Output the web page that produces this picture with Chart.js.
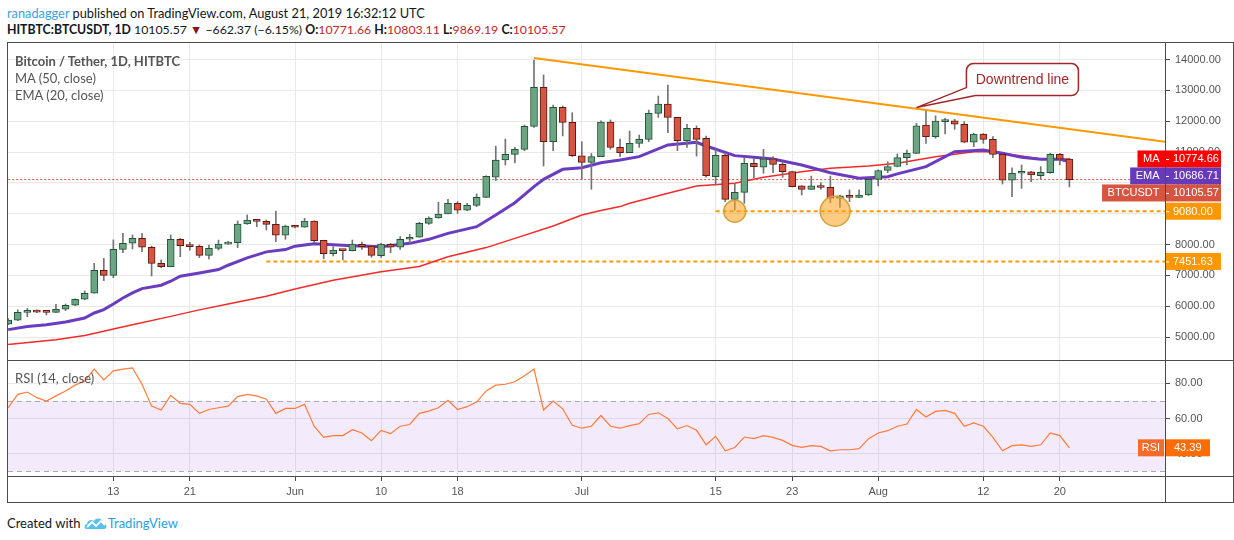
<!DOCTYPE html>
<html>
<head>
<meta charset="utf-8">
<script src="https://cdn.jsdelivr.net/npm/chart.js@4.4.1/dist/chart.umd.min.js"></script>
<style>
  body { margin: 0; background: #fff; }
  #page { position: relative; width: 1234px; height: 540px; overflow: hidden; font-family: Lato, "Liberation Sans", sans-serif; color: #131722; }
  .abs { position: absolute; white-space: nowrap; }
  .hdr { font-size: 12.8px; line-height: 16px; }
  .red { color: #c0282d; }
  .leg { font-size: 13px; line-height: 16px; color: #555; left: 15px; }
  .line { position: absolute; background: #4b4b4b; }
  canvas { position: absolute; }
</style>
</head>
<body>
<div id="page">
  <div class="abs hdr" style="left:7px;top:5px"><span style="color:#3aa3df">ranadagger</span> published on TradingView.com, August 21, 2019 16:32:12 UTC</div>
  <div class="abs hdr" id="quote" style="left:7px;top:22px;font-size:12.3px"></div>

  <div class="abs" style="left:7px;top:42px;width:1227px;height:461px;border:1px solid #4b4b4b;box-sizing:border-box"></div>
  <canvas id="price" width="1224" height="317" style="left:8px;top:43px"></canvas>
  <canvas id="rsi" width="1224" height="142" style="left:8px;top:361px"></canvas>
  <div class="line" style="left:8px;top:360px;width:1225px;height:1px"></div>
  <div class="line" style="left:8px;top:476px;width:1225px;height:1px"></div>
  <div class="line" style="left:1165px;top:43px;width:1px;height:459px"></div>

  <div class="abs leg" style="top:53px;font-weight:bold">Bitcoin / Tether, 1D, HITBTC</div>
  <div class="abs leg" style="top:70px">MA (50, close)</div>
  <div class="abs leg" style="top:87px">EMA (20, close)</div>
  <div class="abs leg" style="top:370px">RSI (14, close)</div>

  <div class="abs hdr" style="left:7px;top:515px;font-size:13px">Created with
    <svg width="24" height="14" viewBox="0 0 24 14" style="vertical-align:-2px">
      <path d="M2 13 C0 13 0 8 3 8 C3 4 8 3 10 5 C12 1 19 2 19 7 C23 7 24 13 20 13 Z" fill="#5bc0eb"/>
      <path d="M3 11 L8 6 L12 10 L17 5 L21 9" stroke="#fff" stroke-width="1.8" fill="none"/>
    </svg><span style="color:#2aa1e3">TradingView</span></div>
</div>

<script>
// daily candles, May 2 - Aug 21 2019
const dates = [
  '5/2','5/3','5/4','5/5','5/6','5/7','5/8','5/9','5/10','5/11','5/12','5/13','5/14','5/15','5/16',
  '5/17','5/18','5/19','5/20','5/21','5/22','5/23','5/24','5/25','5/26','5/27','5/28','5/29','5/30','5/31',
  '6/1','6/2','6/3','6/4','6/5','6/6','6/7','6/8','6/9','6/10','6/11','6/12','6/13','6/14','6/15',
  '6/16','6/17','6/18','6/19','6/20','6/21','6/22','6/23','6/24','6/25','6/26','6/27','6/28','6/29','6/30',
  '7/1','7/2','7/3','7/4','7/5','7/6','7/7','7/8','7/9','7/10','7/11','7/12','7/13','7/14','7/15','7/16',
  '7/17','7/18','7/19','7/20','7/21','7/22','7/23','7/24','7/25','7/26','7/27','7/28','7/29','7/30','7/31',
  '8/1','8/2','8/3','8/4','8/5','8/6','8/7','8/8','8/9','8/10','8/11','8/12','8/13','8/14','8/15','8/16',
  '8/17','8/18','8/19','8/20','8/21'
];
const opens = [
  5420,5545,5800,5865,5810,5800,5900,6030,6225,6420,7165,7000,7845,8040,8200,
  7910,7390,7280,8170,7985,7940,7650,7875,8015,8060,8665,8795,8750,8655,8300,
  8600,8560,8760,8135,7705,7820,7800,8006,7950,7640,8005,7910,8170,8235,8685,
  8860,8990,9335,9110,9270,9530,10180,10740,10925,11085,11830,13100,11335,12450,11960,
  10880,10665,10850,11970,11150,10980,11280,11410,12255,12555,12125,11370,11770,11445,10200,10890,
  9465,9690,10635,10505,10775,10600,10365,9900,9790,9890,9855,9500,9575,9530,9605,
  10115,10400,10530,10820,10955,11875,11500,11985,12015,11900,11315,11585,11410,10925,10090,10310,
  10360,10235,10330,10925,10771.66
];
const highs = [
  5600,5880,5930,5880,5825,6060,6070,6240,6495,7390,7550,8150,8365,8310,8365,
  7950,7500,8310,8200,8070,7985,7985,8145,8100,8765,8960,8805,8795,9085,8630,
  8620,8850,8770,8140,7930,7830,8146,8080,7960,8040,8040,8255,8330,8720,8900,
  9370,9465,9390,9335,9640,10230,11190,11420,11150,11875,13980,13500,12525,12490,12275,
  11335,10955,12010,12040,11420,11680,11550,12360,12815,13170,12125,11900,11845,11520,11085,10955,
  9985,10825,10795,11085,10850,10685,10370,9910,10220,10005,10220,9600,9770,9770,10130,
  10420,10680,10935,11065,11930,12340,12170,12090,12060,11985,11605,11600,11500,10930,10490,10580,
  10370,10525,10960,10960,10803.11
];
const lows = [
  5400,5530,5660,5790,5715,5790,5855,6020,6210,6420,6830,6925,7735,7855,7770,
  6980,7250,7280,7605,7820,7575,7530,7820,8005,7900,8655,8580,8470,8095,8170,
  8540,8560,8060,7540,7630,7500,7790,7843,7585,7585,7735,7845,8040,8235,8655,
  8850,8990,9010,9100,9230,9520,10070,10580,10650,11040,11800,10545,11040,11520,10850,
  10115,9790,10850,11090,10850,10980,11150,11335,12125,11630,11045,11150,10870,10180,9930,9390,
  9120,9335,10170,10310,10330,10180,9870,9605,9780,9790,9355,9205,9390,9520,9590,
  9900,10330,10520,10580,10955,11280,11445,11585,11735,11300,11175,11280,10815,9960,9550,9820,
  10040,10125,10310,10580,9869.19
];
const closes = [
  5550,5800,5865,5805,5800,5900,6030,6225,6420,7165,7000,7845,8040,8200,7910,
  7390,7280,8170,7965,7930,7650,7875,8015,8060,8665,8795,8750,8655,8300,8600,
  8560,8760,8125,7705,7820,7800,8015,7930,7650,8015,7910,8170,8235,8685,8860,
  8990,9335,9110,9270,9530,10210,10740,10925,11085,11830,13100,11335,12450,11960,10880,
  10665,10850,11970,11150,10980,11280,11410,12255,12555,12125,11370,11770,11410,10235,10890,9465,
  9690,10635,10525,10775,10600,10365,9875,9790,9900,9850,9500,9575,9530,9605,10115,
  10400,10530,10820,10955,11845,11500,12005,12005,11900,11315,11585,11410,10925,10090,10310,10340,
  10255,10340,10925,10767.94,10105.57
];
const rsiValues = [
  66.1,73.7,75.0,71.8,69.9,72.8,75.6,78.9,81.3,88.0,81.9,87.0,88.0,88.6,79.4,
  67.0,64.8,73.1,68.6,68.0,62.9,65.1,66.1,67.0,72.4,73.7,72.8,70.9,62.9,65.7,
  65.7,68.0,55.6,49.3,50.3,50.3,53.7,51.8,47.4,53.3,51.4,55.6,56.6,62.9,64.2,
  66.1,70.3,65.1,66.7,69.3,75.6,78.9,79.4,80.8,84.2,88.0,64.8,69.9,65.5,56.2,
  54.5,55.6,61.7,55.6,54.5,56.0,57.1,62.3,63.2,60.0,54.1,56.0,53.3,45.1,49.9,41.7,
  43.6,49.5,48.6,50.3,49.3,47.6,44.8,43.6,44.6,44.2,41.7,42.3,42.3,42.9,48.6,
  51.8,53.1,55.6,56.9,65.1,60.8,64.0,64.6,62.9,55.6,57.5,55.6,49.3,41.7,44.6,45.1,
  44.2,45.1,51.8,50.3,43.39
];

// moving averages
const maDates = ['5/2','5/7','5/10','5/12','5/13','5/15','5/19','5/22','5/25','5/29','6/1','6/5','6/10','6/14',
  '6/17','6/21','6/24','6/28','7/1','7/3','7/5','7/6','7/10','7/13','7/17','7/20','7/24','7/27','7/31','8/3',
  '8/7','8/11','8/13','8/16','8/18','8/21'];
const maValues = [4755,4915,5050,5190,5260,5400,5670,5880,6070,6320,6560,6840,7119,7290,
  7606,7900,8200,8600,8957,9100,9230,9336,9660,9898,9984,10179,10363,10471,10546,10633,
  10849,11011,11011,10871,10773,10774.66];
const emaDates = ['5/2','5/4','5/6','5/8','5/10','5/11','5/12','5/13','5/14','5/15','5/16','5/18','5/19','5/20',
  '5/22','5/24','5/25','5/27','5/29','5/31','6/1','6/3','6/5','6/7','6/10','6/13','6/15','6/17','6/20','6/22',
  '6/24','6/26','6/27','6/29','7/1','7/3','7/5','7/7','7/10','7/13','7/14','7/17','7/19','7/21','7/24','7/27',
  '7/30','8/2','8/3','8/6','8/9','8/12','8/14','8/16','8/18','8/20','8/21'];
const emaValues = [5240,5340,5400,5485,5617,5780,5888,6072,6267,6429,6570,6680,6810,6971,
  7079,7188,7328,7567,7762,7837,7946,8021,7990,7962,7930,8038,8168,8362,8578,8957,
  9357,9876,10113,10438,10492,10654,10740,10849,11228,11314,11195,10882,10827,10773,10579,10330,
  10147,10201,10290,10525,11011,11065,10960,10827,10763,10763,10686.71];

// drawn objects
const trendDates = ['6/26', '8/31'];
const trendPrices = [14050, 11330];
const levelPrices = [9080, 7451.63];
const levelStarts = ['7/15', '5/29'];
const levelEnd = '8/31';
const circleDays = [46, 56.5];
const circleSizes = [11, 15];
const calloutDate = '8/5';
const calloutPrice = 12440;

// axes
const tickDates = ['5/13','5/21','6/1','6/10','6/18','7/1','7/15','7/23','8/1','8/12','8/20'];
const tickLabels = ['13','21','Jun','10','18','Jul','15','23','Aug','12','20'];
const priceTicks = [5000,6000,7000,8000,9000,10000,11000,12000,13000,14000];
const rsiTicks = [40, 60, 80];

const X_MIN = -30.02, X_MAX = 91.0;
const AXIS_FONT = { family: '"Liberation Sans", Arial, sans-serif', size: 11 };
const GRID = '#e9e9e9';

function dayOf(s) {
  const [m, d] = s.split('/').map(Number);
  return (Date.UTC(2019, m - 1, d) - Date.UTC(2019, 5, 1)) / 864e5;
}

// header quote from last candle
const n = closes.length - 1;
const chg = closes[n] - closes[n - 1];
const f2 = v => v.toFixed(2);
document.getElementById('quote').innerHTML =
  '<b>HITBTC:BTCUSDT, 1D</b> ' + f2(closes[n]) + ' <span style="color:#8b1111">&#9660;</span> ' +
  '\u2212' + f2(-chg) + ' (\u2212' + f2(-chg / closes[n - 1] * 100) + '%) ' +
  '<b>O:</b><span class="red">' + f2(opens[n]) + '</span> <b>H:</b><span class="red">' + f2(highs[n]) +
  '</span> <b>L:</b><span class="red">' + f2(lows[n]) + '</span> <b>C:</b><span class="red">' + f2(closes[n]) + '</span>';

const xs = dates.map(dayOf);
const isUp = closes.map((c, i) => c >= opens[i]);
const tickDays = tickDates.map(dayOf);

const xScale = (showLabels) => ({
  type: 'linear', min: X_MIN, max: X_MAX, offset: false,
  afterBuildTicks: s => { s.ticks = tickDays.map(v => ({ value: v })); },
  ticks: showLabels
    ? { display: true, autoSkip: false, maxRotation: 0, padding: 4, color: '#555', font: AXIS_FONT, callback: (v, i) => tickLabels[i] }
    : { display: false },
  grid: { color: GRID, offset: false, drawTicks: showLabels, tickLength: 4, tickColor: '#4b4b4b' },
  border: { display: false },
  afterFit: s => { s.height = showLabels ? 26 : 0; s.paddingLeft = 0; s.paddingRight = 0; }
});

const yScale = (min, max, ticks) => ({
  position: 'right', min, max,
  afterBuildTicks: s => { s.ticks = ticks.map(v => ({ value: v })); },
  ticks: { color: '#555', font: AXIS_FONT, padding: 5, callback: v => Number(v).toFixed(2) },
  grid: { color: GRID, tickLength: 5, tickColor: '#4b4b4b' },
  border: { display: false },
  afterFit: s => { s.width = 67; s.paddingTop = 0; s.paddingBottom = 0; }
});

// price axis value labels (MA, EMA, last price, levels)
const priceLabels = {
  id: 'priceLabels',
  afterDraw(chart) {
    const { ctx, chartArea, scales: { y } } = chart;
    const items = [
      { name: 'MA', value: maValues[maValues.length - 1], color: '#ff0000' },
      { name: 'EMA', value: emaValues[emaValues.length - 1], color: '#673ab7' },
      { name: 'BTCUSDT', value: closes[n], color: '#d65442' },
      { name: null, value: levelPrices[0], color: '#ff9800' },
      { name: null, value: levelPrices[1], color: '#ff9800' }
    ].map(it => ({ ...it, y: y.getPixelForValue(it.value) })).sort((a, b) => a.y - b.y);
    const h = 17;
    let prev = -Infinity;
    const x0 = chartArea.right;
    ctx.save();
    ctx.font = '11px "Liberation Sans", Arial, sans-serif';
    ctx.textBaseline = 'middle';
    items.forEach(it => {
      const cy = Math.max(it.y, prev + h);
      prev = cy;
      ctx.fillStyle = it.color;
      ctx.fillRect(x0, cy - h / 2, 56, h);
      ctx.strokeStyle = '#fff';
      ctx.lineWidth = 1;
      ctx.beginPath(); ctx.moveTo(x0, cy + 0.5); ctx.lineTo(x0 + 4, cy + 0.5); ctx.stroke();
      ctx.fillStyle = '#fff';
      ctx.textAlign = 'left';
      ctx.fillText(it.value.toFixed(2), x0 + 8, cy + 0.5);
      if (it.name) {
        const w = ctx.measureText(it.name).width + 11;
        ctx.fillStyle = it.color;
        ctx.fillRect(x0 - w, cy - h / 2, w, h);
        ctx.fillStyle = '#fff';
        ctx.textAlign = 'center';
        ctx.fillText(it.name, x0 - w / 2, cy + 0.5);
      }
    });
    ctx.restore();
  }
};

// "Downtrend line" callout
const callout = {
  id: 'callout',
  afterDatasetsDraw(chart) {
    const { ctx, scales: { x, y } } = chart;
    const tx = x.getPixelForValue(dayOf(calloutDate)), ty = y.getPixelForValue(calloutPrice);
    const bx = tx + 50, by = ty - 44, bw = 112, bh = 32, r = 7;
    ctx.save();
    ctx.beginPath();
    ctx.moveTo(bx + r, by);
    ctx.lineTo(bx + bw - r, by); ctx.arcTo(bx + bw, by, bx + bw, by + r, r);
    ctx.lineTo(bx + bw, by + bh - r); ctx.arcTo(bx + bw, by + bh, bx + bw - r, by + bh, r);
    ctx.lineTo(bx + 9, by + bh);
    ctx.lineTo(tx, ty);
    ctx.lineTo(bx, by + bh - 8);
    ctx.lineTo(bx, by + r); ctx.arcTo(bx, by, bx + r, by, r);
    ctx.closePath();
    ctx.fillStyle = '#fff';
    ctx.fill();
    ctx.strokeStyle = '#a3262a';
    ctx.lineWidth = 1.5;
    ctx.stroke();
    ctx.fillStyle = '#a3262a';
    ctx.font = '14px "Liberation Sans", Arial, sans-serif';
    ctx.textAlign = 'center';
    ctx.textBaseline = 'middle';
    ctx.fillText('Downtrend line', bx + bw / 2, by + bh / 2 + 1);
    ctx.restore();
  }
};

const lineDs = (data, color, width, order, dash) => ({
  type: 'line', data, borderColor: color, borderWidth: width, borderDash: dash || [],
  pointRadius: 0, tension: 0, fill: false, order
});
const levelLine = i => lineDs(
  [{ x: dayOf(levelStarts[i]), y: levelPrices[i] }, { x: dayOf(levelEnd), y: levelPrices[i] }],
  '#ff9800', 2, 8, [4, 3]);

new Chart(document.getElementById('price'), {
  type: 'bar',
  data: {
    datasets: [
      lineDs([{ x: xs[0], y: closes[n] }, { x: dayOf(levelEnd), y: closes[n] }], '#d65442', 1, 9, [2, 2]),
      levelLine(0),
      levelLine(1),
      lineDs(maDates.map((d, i) => ({ x: dayOf(d), y: maValues[i] })), '#f22a2a', 1.5, 7),
      lineDs(emaDates.map((d, i) => ({ x: dayOf(d), y: emaValues[i] })), '#6a3cc0', 3, 6),
      {
        data: xs.map((x, i) => ({ x, y: [lows[i], highs[i]] })),
        backgroundColor: '#737375', borderWidth: 0, barThickness: 1, grouped: false, order: 5
      },
      {
        data: xs.map((x, i) => ({ x, y: [opens[i], closes[i]] })),
        backgroundColor: isUp.map(u => u ? '#6ba583' : '#d75442'),
        borderColor: isUp.map(u => u ? '#225437' : '#5b1a13'),
        borderWidth: 1, borderSkipped: false, barThickness: 7, minBarLength: 2, grouped: false, order: 4
      },
      lineDs(trendDates.map((d, i) => ({ x: dayOf(d), y: trendPrices[i] })), '#ff9800', 2, 3),
      {
        type: 'bubble',
        data: circleDays.map((d, i) => ({ x: d, y: levelPrices[0], r: circleSizes[i] })),
        backgroundColor: 'rgba(255,160,30,0.55)', borderColor: '#d2a43a', borderWidth: 1.5, order: 1
      }
    ]
  },
  options: {
    responsive: false, animation: false, events: [],
    layout: { padding: 0, autoPadding: false },
    plugins: { legend: { display: false }, tooltip: { enabled: false } },
    scales: { x: xScale(false), y: yScale(4255, 14535, priceTicks) }
  },
  plugins: [callout, priceLabels]
});

// RSI band and value label
const rsiBand = {
  id: 'rsiBand',
  beforeDatasetsDraw(chart) {
    const { ctx, chartArea: a, scales: { y } } = chart;
    const y70 = y.getPixelForValue(70), y30 = y.getPixelForValue(30);
    ctx.save();
    ctx.fillStyle = 'rgba(150,60,230,0.11)';
    ctx.fillRect(a.left, y70, a.right - a.left, y30 - y70);
    ctx.strokeStyle = '#a9a9b4';
    ctx.lineWidth = 1;
    ctx.setLineDash([5, 4]);
    [y70, y30].forEach(v => {
      ctx.beginPath(); ctx.moveTo(a.left, Math.round(v) + 0.5); ctx.lineTo(a.right, Math.round(v) + 0.5); ctx.stroke();
    });
    ctx.restore();
  },
  afterDraw(chart) {
    const { ctx, chartArea: a, scales: { y } } = chart;
    const last = rsiValues[rsiValues.length - 1];
    const cy = y.getPixelForValue(last), h = 17;
    ctx.save();
    ctx.font = '11px "Liberation Sans", Arial, sans-serif';
    ctx.textBaseline = 'middle';
    ctx.fillStyle = '#ff6d00';
    ctx.fillRect(a.right + 1, cy - h / 2, 44, h);
    ctx.fillStyle = '#f46b2a';
    ctx.fillRect(a.right - 27, cy - h / 2, 26, h);
    ctx.fillStyle = '#fff';
    ctx.textAlign = 'left';
    ctx.fillText(last.toFixed(2), a.right + 9, cy + 0.5);
    ctx.textAlign = 'center';
    ctx.fillText('RSI', a.right - 14, cy + 0.5);
    ctx.restore();
  }
};

new Chart(document.getElementById('rsi'), {
  type: 'line',
  data: {
    datasets: [lineDs(xs.map((x, i) => ({ x, y: rsiValues[i] })), '#ff7b39', 1.2, 1)]
  },
  options: {
    responsive: false, animation: false, events: [],
    layout: { padding: 0, autoPadding: false },
    plugins: { legend: { display: false }, tooltip: { enabled: false } },
    scales: { x: xScale(true), y: yScale(26.86, 92.57, rsiTicks) }
  },
  plugins: [rsiBand]
});
</script>
</body>
</html>
